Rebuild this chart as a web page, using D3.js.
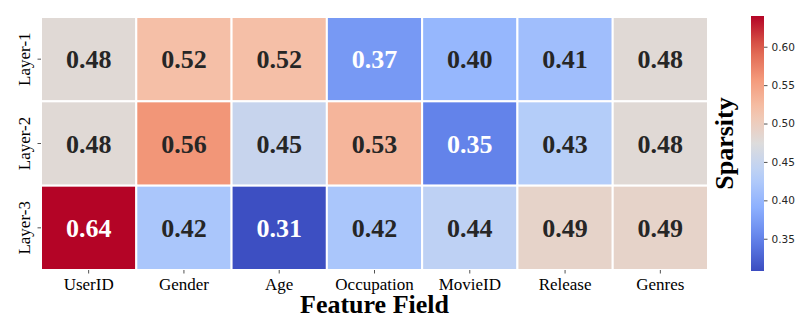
<!DOCTYPE html>
<html>
<head>
<meta charset="utf-8">
<script src="https://cdn.jsdelivr.net/npm/d3@7"></script>
<style>
  body { margin: 0; background: #fff; }
  svg { display: block; }
</style>
</head>
<body>
<div id="chart"></div>
<script>
// data
var layers = ['Layer-1', 'Layer-2', 'Layer-3'];
var fields = ['UserID', 'Gender', 'Age', 'Occupation', 'MovieID', 'Release', 'Genres'];
var layer1 = [0.48, 0.52, 0.52, 0.37, 0.40, 0.41, 0.48];
var layer2 = [0.48, 0.56, 0.45, 0.53, 0.35, 0.43, 0.48];
var layer3 = [0.64, 0.42, 0.31, 0.42, 0.44, 0.49, 0.49];
var colorTicks = [0.35, 0.40, 0.45, 0.50, 0.55, 0.60];
var vmin = 0.308, vmax = 0.640;

// matplotlib coolwarm, sampled at 9 points
var coolwarm = ['#3b4cc0', '#6282ea', '#8db0fe', '#b7cff9', '#dddcdc',
                '#f5c4ac', '#f49a7b', '#dd5f4b', '#b40426'];

var width = 797, height = 319;
var gridLeft = 41, gridRight = 708, gridTop = 17, gridBottom = 270;
var serif = '"Liberation Serif", "Times New Roman", serif';

var rows = [layer1, layer2, layer3];
var cells = [];
rows.forEach(function (vals, i) {
    vals.forEach(function (v, j) {
        cells.push({ layer: layers[i], field: fields[j], value: v });
    });
});

var svg = d3.select('#chart').append('svg')
    .attr('width', width)
    .attr('height', height);

var x = d3.scaleBand().domain(fields).range([gridLeft, gridRight]);
var y = d3.scaleBand().domain(layers).range([gridTop, gridBottom]);
var interp = d3.piecewise(d3.interpolateRgb, coolwarm);
var color = d3.scaleSequential(interp).domain([vmin, vmax]);

// cells
svg.append('g').selectAll('rect')
    .data(cells)
    .enter()
    .append('rect')
    .attr('x', function (d) { return x(d.field); })
    .attr('y', function (d) { return y(d.layer); })
    .attr('width', x.bandwidth())
    .attr('height', y.bandwidth())
    .attr('fill', function (d) { return color(d.value); })
    .attr('stroke', '#fff')
    .attr('stroke-width', 2);

// annotations: white text on dark cells (seaborn style)
function luminance(c) {
    var rgb = d3.rgb(c);
    var ch = [rgb.r, rgb.g, rgb.b].map(function (v) {
        v = v / 255;
        return v <= 0.03928 ? v / 12.92 : Math.pow((v + 0.055) / 1.055, 2.4);
    });
    return 0.2126 * ch[0] + 0.7152 * ch[1] + 0.0722 * ch[2];
}

svg.append('g').selectAll('text')
    .data(cells)
    .enter()
    .append('text')
    .attr('x', function (d) { return x(d.field) + x.bandwidth() / 2; })
    .attr('y', function (d) { return y(d.layer) + y.bandwidth() / 2; })
    .attr('dy', '0.35em')
    .attr('text-anchor', 'middle')
    .style('font-family', serif)
    .style('font-weight', 'bold')
    .style('font-size', '26px')
    .attr('fill', function (d) { return luminance(color(d.value)) > 0.408 ? '#262626' : '#fff'; })
    .text(function (d) { return d3.format('.2f')(d.value); });

// x axis
var xAxis = svg.append('g')
    .attr('transform', 'translate(0,' + gridBottom + ')')
    .call(d3.axisBottom(x).tickSize(3.5).tickPadding(4));
xAxis.select('.domain').remove();
xAxis.selectAll('line').attr('stroke', '#262626').attr('stroke-width', 0.8);
xAxis.selectAll('text')
    .attr('fill', '#000')
    .style('font-family', serif)
    .style('font-size', '17px');

// y axis
var yAxis = svg.append('g')
    .attr('transform', 'translate(' + gridLeft + ',0)')
    .call(d3.axisLeft(y).tickSize(3.5).tickPadding(0));
yAxis.select('.domain').remove();
yAxis.selectAll('line').attr('stroke', '#262626').attr('stroke-width', 0.8);
yAxis.selectAll('text')
    .attr('fill', '#000')
    .attr('x', 0).attr('dy', 0)
    .attr('text-anchor', 'middle')
    .attr('transform', 'translate(-11,0) rotate(-90)')
    .style('font-family', serif)
    .style('font-size', '17px');

// x title
svg.append('text')
    .attr('x', (gridLeft + gridRight) / 2)
    .attr('y', 313)
    .attr('text-anchor', 'middle')
    .style('font-family', serif)
    .style('font-weight', 'bold')
    .style('font-size', '26px')
    .text('Feature Field');

// colorbar
var cbX = 751, cbW = 13;
var cbScale = d3.scaleLinear().domain([vmin, vmax]).range([gridBottom + 1, gridTop - 1]);
var defs = svg.append('defs');
var grad = defs.append('linearGradient')
    .attr('id', 'cbgrad')
    .attr('x1', 0).attr('y1', 1).attr('x2', 0).attr('y2', 0);
d3.range(0, 1.0001, 0.05).forEach(function (t) {
    grad.append('stop').attr('offset', t).attr('stop-color', interp(t));
});
svg.append('rect')
    .attr('x', cbX)
    .attr('y', cbScale(vmax))
    .attr('width', cbW)
    .attr('height', cbScale(vmin) - cbScale(vmax))
    .attr('fill', 'url(#cbgrad)');

var cbAxis = svg.append('g')
    .attr('transform', 'translate(' + (cbX + cbW) + ',0)')
    .call(d3.axisRight(cbScale).tickValues(colorTicks).tickFormat(d3.format('.2f')).tickSize(3.5).tickPadding(4));
cbAxis.select('.domain').remove();
cbAxis.selectAll('line').attr('stroke', '#262626').attr('stroke-width', 0.8);
cbAxis.selectAll('text')
    .attr('fill', '#262626')
    .style('font-family', '"DejaVu Sans", sans-serif')
    .style('font-size', '10.5px');

svg.append('text')
    .attr('transform', 'translate(733,' + (gridTop + gridBottom) / 2 + ') rotate(-90)')
    .attr('text-anchor', 'middle')
    .style('font-family', serif)
    .style('font-weight', 'bold')
    .style('font-size', '26px')
    .text('Sparsity');
</script>
</body>
</html>
